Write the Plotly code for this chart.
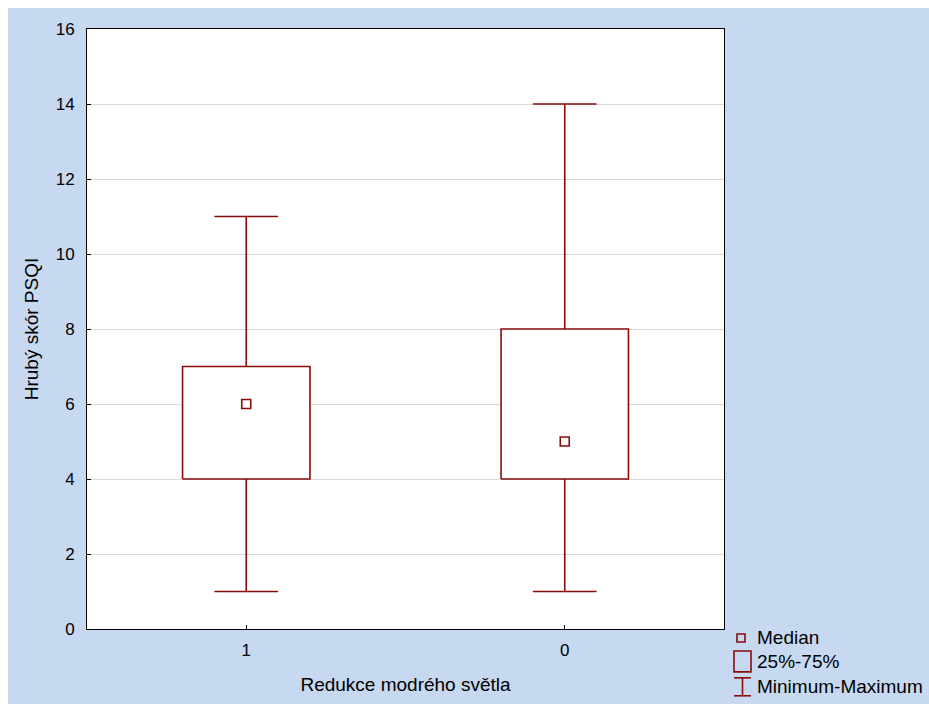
import plotly.graph_objects as go

categories = ["1", "0"]
minimum = [1, 1]
q1 = [4, 4]
median = [6, 5]
q3 = [7, 8]
maximum = [11, 14]

RED = "#8B0A0A"
BG = "#C6D9F0"
W, H = 929, 704
# plot area in screen pixels
L, R, T, B = 87, 724, 29, 631

fig = go.Figure()
for i, cat in enumerate(categories):
    c = i
    fig.add_trace(go.Scatter(
        x=[c - 0.2, c + 0.2, c + 0.2, c - 0.2, c - 0.2],
        y=[q1[i], q1[i], q3[i], q3[i], q1[i]],
        mode="lines", line=dict(color=RED, width=1.6),
        fill="toself", fillcolor="white", showlegend=False, hoverinfo="skip"))
    fig.add_trace(go.Scatter(
        x=[c, c, None, c, c, None, c - 0.1, c + 0.1, None, c - 0.1, c + 0.1],
        y=[q3[i], maximum[i], None, q1[i], minimum[i], None,
           maximum[i], maximum[i], None, minimum[i], minimum[i]],
        mode="lines", line=dict(color=RED, width=1.6),
        showlegend=False, hoverinfo="skip"))
    fig.add_trace(go.Scatter(
        x=[c], y=[median[i]], mode="markers",
        marker=dict(symbol="square-open", size=9, color=RED, line=dict(width=1.6, color=RED)),
        showlegend=False))

def px(x):
    return (x - L) / (R - L)

def py(y):
    return (B - y) / (B - T)

shapes = []
# blue frame background (white 8px border at top/left), white plot area on top of it
shapes.append(dict(type="rect", xref="paper", yref="paper", layer="below",
                   x0=px(8), x1=px(W + 10), y0=py(H + 10), y1=py(8),
                   line=dict(width=0), fillcolor=BG))
shapes.append(dict(type="rect", xref="paper", yref="paper", layer="below",
                   x0=0, x1=1, y0=0, y1=1,
                   line=dict(width=0), fillcolor="white"))
shapes.append(dict(type="rect", xref="paper", yref="paper",
                   x0=px(737), x1=px(745), y0=py(644), y1=py(636),
                   line=dict(color=RED, width=1.6)))
shapes.append(dict(type="rect", xref="paper", yref="paper",
                   x0=px(734), x1=px(751), y0=py(674), y1=py(653),
                   line=dict(color=RED, width=1.6)))
shapes.append(dict(type="line", xref="paper", yref="paper",
                   x0=px(742.5), x1=px(742.5), y0=py(680), y1=py(698),
                   line=dict(color=RED, width=1.6)))
shapes.append(dict(type="line", xref="paper", yref="paper",
                   x0=px(734), x1=px(751), y0=py(680), y1=py(680),
                   line=dict(color=RED, width=1.6)))
shapes.append(dict(type="line", xref="paper", yref="paper",
                   x0=px(734), x1=px(751), y0=py(698), y1=py(698),
                   line=dict(color=RED, width=1.6)))

annotations = []
for text, yy in [("Median", 640), ("25%-75%", 664), ("Minimum-Maximum", 689)]:
    annotations.append(dict(text=text, xref="paper", yref="paper",
                            x=px(755), y=py(yy), xanchor="left", yanchor="middle",
                            showarrow=False, font=dict(size=19, color="black")))

fig.update_layout(
    width=W, height=H,
    margin=dict(l=L, r=W - R, t=T, b=H - B - 2),
    paper_bgcolor="white", plot_bgcolor="white",
    font=dict(family="Liberation Sans, Arial, sans-serif", size=17, color="black"),
    shapes=shapes, annotations=annotations,
    xaxis=dict(range=[-0.5, 1.5], tickvals=[0, 1], ticktext=categories,
               showgrid=False, zeroline=False, showline=True, linecolor="black",
               linewidth=1, mirror=True, ticks="inside", ticklen=4, tickcolor="black",
               tickfont=dict(size=17), ticklabelstandoff=6,
               title=dict(text="Redukce modrého světla", font=dict(size=19), standoff=18)),
    yaxis=dict(range=[0, 16], dtick=2, showgrid=True, gridcolor="#D9D9D9", gridwidth=1,
               zeroline=False, showline=True, linecolor="black", linewidth=1, mirror=True,
               ticks="inside", ticklen=4, tickcolor="black",
               tickfont=dict(size=17), ticklabelstandoff=8,
               title=dict(text="Hrubý skór PSQI", font=dict(size=19), standoff=12)),
)

fig.write_html("out.html", config={"displayModeBar": False},
               post_script="document.body.style.margin='0';"
                           "document.documentElement.style.overflow='hidden';"
                           "document.body.style.overflow='hidden';")
